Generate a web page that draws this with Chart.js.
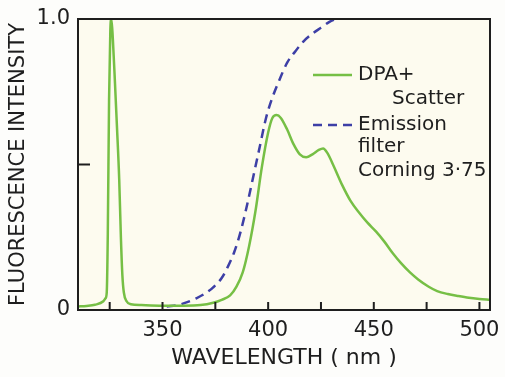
<!DOCTYPE html>
<html>
<head>
<meta charset="utf-8">
<script src="https://cdn.jsdelivr.net/npm/chart.js@4"></script>
<style>
  html, body { margin: 0; padding: 0; background: #fdfdfb; }
  #wrap { width: 505px; height: 377px; }
</style>
</head>
<body>
<div id="wrap"><canvas id="chart" width="505" height="377"></canvas></div>
<script>
// DPA + scatter spectrum
const dpaWavelength = [310, 314, 318, 322, 323, 323.6, 324.1, 324.7, 325.3, 325.8, 326.5, 327.5, 328.5, 329.5, 330.3, 331, 331.7, 333, 335, 340, 350, 360, 368, 374, 378, 382, 385, 388, 391, 394, 397, 400, 402, 404, 406, 409, 412, 415, 418, 421, 424, 426, 428, 431, 435, 439, 443, 447, 451, 455, 459, 463, 467, 471, 476, 480, 485, 490, 495, 500, 505];
const dpaIntensity = [0.012, 0.014, 0.018, 0.03, 0.04, 0.06, 0.26, 0.72, 0.96, 1.0, 0.93, 0.78, 0.62, 0.45, 0.25, 0.12, 0.06, 0.03, 0.02, 0.017, 0.015, 0.015, 0.017, 0.025, 0.035, 0.05, 0.08, 0.13, 0.22, 0.34, 0.49, 0.61, 0.66, 0.67, 0.66, 0.62, 0.57, 0.535, 0.525, 0.535, 0.55, 0.555, 0.54, 0.495, 0.43, 0.375, 0.335, 0.30, 0.27, 0.235, 0.195, 0.16, 0.13, 0.105, 0.08, 0.065, 0.055, 0.048, 0.042, 0.038, 0.035];

// Emission filter Corning 3-75 transmission
const filterWavelength = [352, 358, 362, 366, 370, 374, 378, 381, 384, 387, 390, 393, 396, 399, 402, 405, 409, 413, 417, 421, 425, 429, 432];
const filterTransmission = [0.012, 0.018, 0.028, 0.04, 0.056, 0.078, 0.11, 0.15, 0.2, 0.27, 0.36, 0.46, 0.56, 0.66, 0.73, 0.785, 0.85, 0.89, 0.925, 0.95, 0.97, 0.99, 1.0];

const xTickValues = [325, 350, 375, 400, 425, 450, 475, 500];
const xLabelValues = [350, 400, 450, 500];
const yTickValues = [0, 0.5, 1];
const yTickLabels = {0: '0', 0.5: '', 1: '1.0'};

const ink = '#1e1e1e';
const fontFamily = '"DejaVu Sans", sans-serif';

const frame = {
  id: 'frame',
  beforeDraw(chart) {
    const { ctx, chartArea: a } = chart;
    ctx.save();
    ctx.fillStyle = '#fdfbef';
    ctx.fillRect(a.left, a.top, a.right - a.left, a.bottom - a.top);
    ctx.restore();
  },
  afterDraw(chart) {
    const { ctx, chartArea: a, scales } = chart;
    ctx.save();
    ctx.strokeStyle = ink;
    ctx.lineWidth = 2;
    ctx.strokeRect(a.left, a.top, a.right - a.left, a.bottom - a.top);
    // inward tick marks
    ctx.beginPath();
    xTickValues.forEach(v => {
      const px = scales.x.getPixelForValue(v);
      ctx.moveTo(px, a.bottom);
      ctx.lineTo(px, a.bottom - 8);
    });
    yTickValues.forEach(v => {
      const py = scales.y.getPixelForValue(v);
      ctx.moveTo(a.left, py);
      ctx.lineTo(a.left + 12, py);
    });
    ctx.stroke();

    // legend inside the plot
    const ds = chart.data.datasets;
    ctx.lineWidth = 2.5;
    ctx.strokeStyle = ds[0].borderColor;
    ctx.beginPath(); ctx.moveTo(313, 75); ctx.lineTo(352, 75); ctx.stroke();
    ctx.strokeStyle = ds[1].borderColor;
    ctx.setLineDash(ds[1].borderDash);
    ctx.beginPath(); ctx.moveTo(313, 125); ctx.lineTo(352, 125); ctx.stroke();
    ctx.setLineDash([]);

    ctx.fillStyle = ink;
    ctx.font = '20px ' + fontFamily;
    ctx.textBaseline = 'middle';
    ctx.textAlign = 'left';
    ctx.fillText('DPA+', 358, 75);
    ctx.fillText('Scatter', 392, 99);
    ctx.fillText('Emission', 358, 125);
    ctx.fillText('filter', 358, 147);
    ctx.fillText('Corning 3·75', 358, 171);
    ctx.restore();
  }
};

new Chart(document.getElementById('chart'), {
  type: 'line',
  data: {
    datasets: [
      {
        label: 'DPA+ Scatter',
        data: dpaWavelength.map((w, i) => ({ x: w, y: dpaIntensity[i] })),
        borderColor: '#76bf45',
        borderWidth: 2.5,
        pointRadius: 0,
        cubicInterpolationMode: 'monotone',
        fill: false
      },
      {
        label: 'Emission filter Corning 3·75',
        data: filterWavelength.map((w, i) => ({ x: w, y: filterTransmission[i] })),
        borderColor: '#3d3fa6',
        borderWidth: 2.5,
        borderDash: [9, 6],
        pointRadius: 0,
        cubicInterpolationMode: 'monotone',
        fill: false
      }
    ]
  },
  options: {
    responsive: false,
    animation: false,
    layout: { padding: { top: 19, right: 15, left: 0, bottom: 0 } },
    plugins: {
      legend: { display: false },
      tooltip: { enabled: false }
    },
    scales: {
      x: {
        type: 'linear',
        min: 310,
        max: 505,
        afterBuildTicks: s => { s.ticks = xTickValues.map(v => ({ value: v })); },
        afterFit: s => { s.height = 67; s.paddingLeft = 0; s.paddingRight = 0; },
        grid: { display: false, drawTicks: false },
        border: { display: false },
        ticks: {
          autoSkip: false,
          maxRotation: 0,
          padding: 8,
          color: ink,
          font: { family: fontFamily, size: 21 },
          callback: v => xLabelValues.includes(v) ? String(v) : ''
        },
        title: {
          display: true,
          text: 'WAVELENGTH ( nm )',
          color: ink,
          font: { family: fontFamily, size: 22 },
          padding: { top: 0, bottom: 6 }
        }
      },
      y: {
        min: 0,
        max: 1,
        afterBuildTicks: s => { s.ticks = yTickValues.map(v => ({ value: v })); },
        afterFit: s => { s.width = 78; s.paddingTop = 0; s.paddingBottom = 0; },
        grid: { display: false, drawTicks: false },
        border: { display: false },
        ticks: {
          padding: 8,
          color: ink,
          font: { family: fontFamily, size: 21 },
          callback: v => yTickLabels[v]
        },
        title: {
          display: true,
          text: 'FLUORESCENCE INTENSITY',
          color: ink,
          font: { family: fontFamily, size: 21 },
          padding: { top: 6, bottom: 0 }
        }
      }
    }
  },
  plugins: [frame]
});
</script>
</body>
</html>
